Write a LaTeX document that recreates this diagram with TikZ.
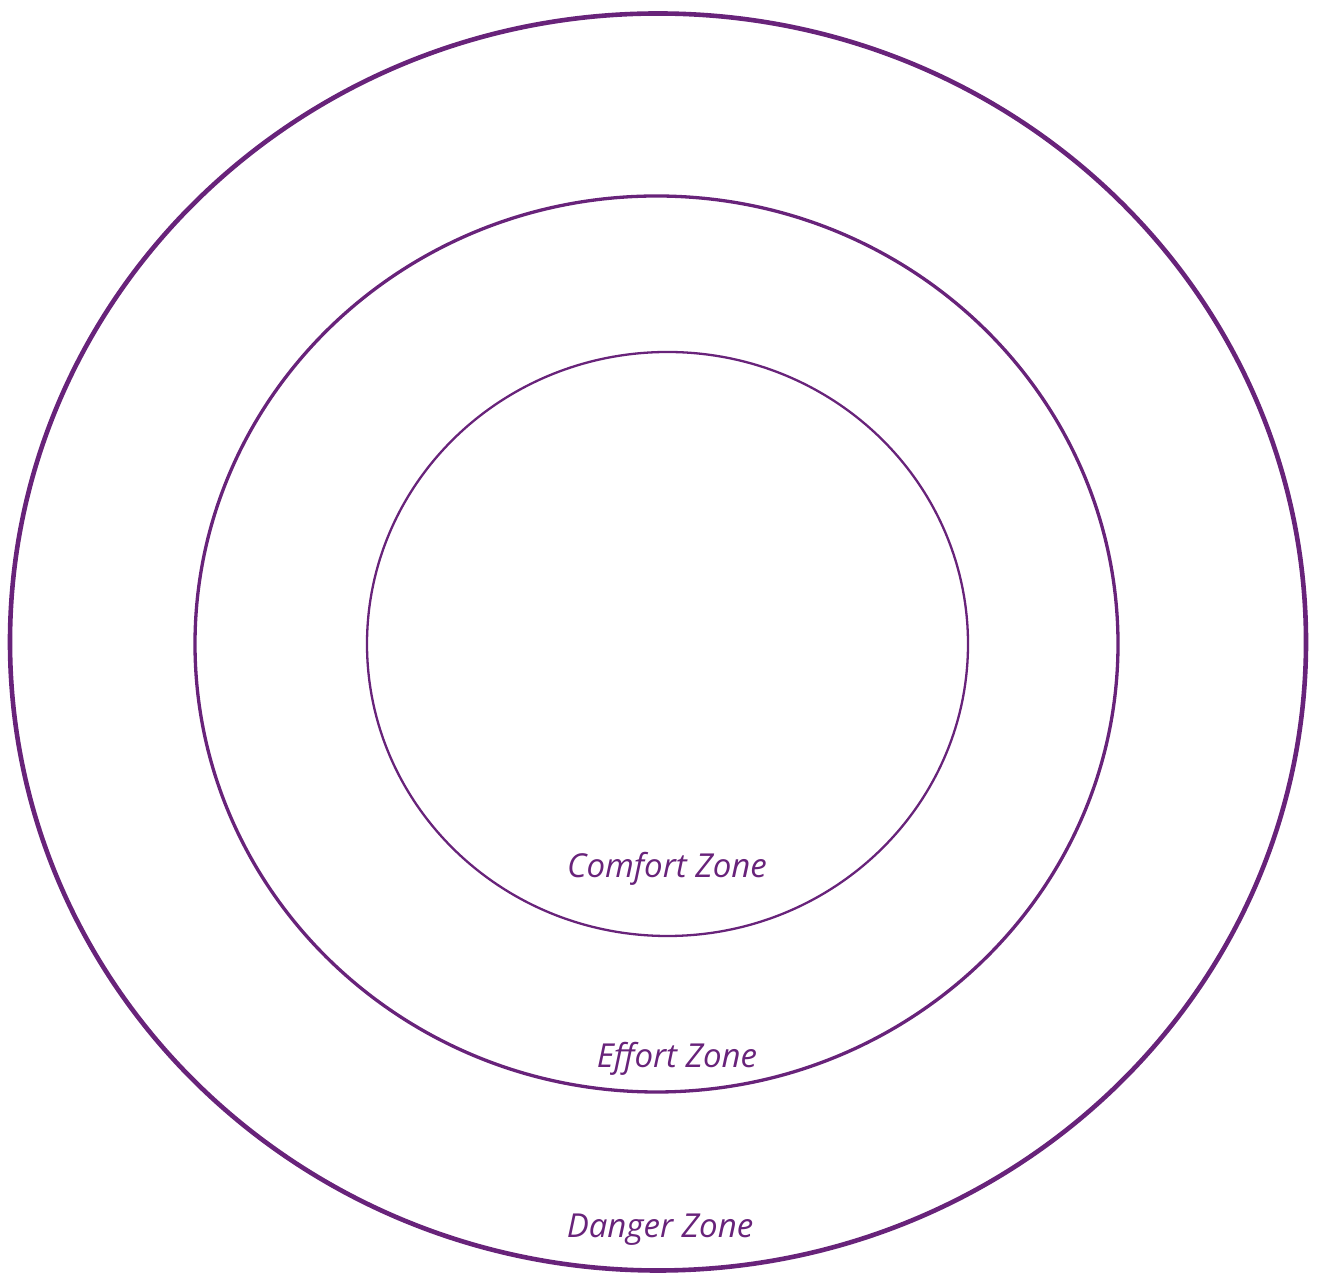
\documentclass[tikz,border=0pt]{standalone}
\usepackage{fontspec}
\setmainfont{Open Sans}
\usetikzlibrary{shapes.geometric}
\definecolor{zonepurple}{HTML}{68237A}
\begin{document}
\begin{tikzpicture}[x=1pt,y=1pt,
  zone/.style={ellipse, draw=zonepurple, inner sep=0pt, outer sep=0pt},
  zonelabel/.style={text=zonepurple, font=\fontsize{33}{38}\selectfont\itshape, anchor=base, inner sep=0pt}]
\useasboundingbox (0,0) rectangle (1319,1273);
\node[zone, line width=4.6pt, minimum width=1296pt, minimum height=1257pt] (danger) at (658,631) {};
\node[zone, line width=3.3pt, minimum width=923pt, minimum height=896pt] (effort) at (656.5,629) {};
\node[zone, line width=2.3pt, minimum width=601pt, minimum height=584pt] (comfort) at (667.5,629) {};
\node[zonelabel] (comfortlbl) at (667,395) {Comfort Zone};
\node[zonelabel] (effortlbl) at (677,205) {Effort Zone};
\node[zonelabel] (dangerlbl) at (660,35) {Danger Zone};
\end{tikzpicture}
\end{document}
